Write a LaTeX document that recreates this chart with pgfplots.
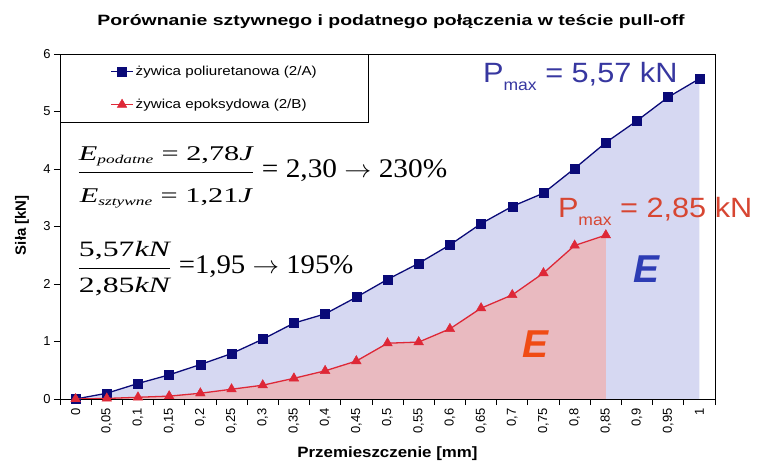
\documentclass[border=0pt]{standalone}
\usepackage{pgfplots}
\pgfplotsset{compat=1.18}
\usepackage{amsmath}
\usepackage{graphicx}
\usepackage{fontspec}
\setmainfont{Liberation Sans}
\newfontfamily\serif{Liberation Serif}
\definecolor{navy}{RGB}{10,10,120}
\definecolor{bluefill}{RGB}{214,216,242}
\definecolor{redline}{RGB}{222,40,55}
\definecolor{redfill}{RGB}{233,186,192}
\definecolor{pblue}{RGB}{55,55,160}
\definecolor{pred}{RGB}{215,70,50}
\definecolor{eblue}{RGB}{45,60,180}
\definecolor{ered}{RGB}{240,75,20}
\pgfplotstableread{
i f
0 0
1 0.10
2 0.27
3 0.42
4 0.60
5 0.79
6 1.04
7 1.32
8 1.48
9 1.77
10 2.08
11 2.36
12 2.68
13 3.05
14 3.35
15 3.58
16 4.01
17 4.46
18 4.84
19 5.25
20 5.57
}\poliur
\pgfplotstableread{
i f
0 0
1 0.01
2 0.03
3 0.05
4 0.10
5 0.17
6 0.24
7 0.36
8 0.49
9 0.66
10 0.97
11 0.99
12 1.22
13 1.58
14 1.81
15 2.19
16 2.67
17 2.85
}\epoks
\begin{document}
\begin{tikzpicture}
\useasboundingbox[fill=white] (0,0) rectangle (768bp,467bp);
\begin{axis}[
  at={(60bp,68bp)}, anchor=south west,
  scale only axis, width=655bp, height=345bp,
  xmin=-0.5, xmax=20.5, ymin=0, ymax=6,
  clip mode=individual,
  axis line style={black, line width=0.8pt},
  tick align=outside,
  xtick pos=bottom, ytick pos=left,
  xtick={0,...,20},
  xticklabels={{0},{0,05},{0,1},{0,15},{0,2},{0,25},{0,3},{0,35},{0,4},{0,45},{0,5},{0,55},{0,6},{0,65},{0,7},{0,75},{0,8},{0,85},{0,9},{0,95},{1}},
  major x tick style={draw=none},
  minor xtick={-0.5,0.5,...,20.5},
  minor tick length=6bp, major tick length=6bp,
  every tick/.style={black, line width=0.8pt},
  ytick={0,...,6},
  /pgf/number format/assume math mode=true,
  ticklabel style={font=\fontsize{13}{14}\selectfont},
  xticklabel style={rotate=90, anchor=east},
  title={\scalebox{1.3}[1]{Porównanie sztywnego i podatnego połączenia w teście pull-off}},
  title style={at={(0.5,1)}, anchor=base, yshift=22.5bp, xshift=3.5bp, font=\bfseries\fontsize{15}{16}\selectfont},
  xlabel={\scalebox{1.13}[1]{Przemieszczenie [mm]}},
  xlabel style={at={(axis description cs:0.5,0)}, anchor=base, yshift=-58bp, font=\bfseries\fontsize{15}{16}\selectfont},
  ylabel={Siła [kN]},
  ylabel style={at={(axis description cs:0,0.504)}, anchor=center, yshift=38bp, font=\bfseries\fontsize{15}{16}\selectfont},
  legend style={at={(0,1)}, anchor=north west, draw=black, line width=0.8pt, fill=white,
    font=\fontsize{13}{14}\selectfont, inner xsep=50bp, inner ysep=10bp, row sep=18bp},
  legend cell align=left,
  legend image code/.code={\draw[mark repeat=2,mark phase=2] plot coordinates {(0bp,0bp) (11bp,0bp) (22bp,0bp)};},
]
\addplot[fill=bluefill, draw=none, forget plot] table[x=i,y=f] {\poliur} \closedcycle;
\addplot[fill=redfill, draw=none, forget plot] table[x=i,y=f] {\epoks} \closedcycle;
\addplot[navy, line width=1.3pt, mark=square*, mark size=4.5bp, mark options={fill=navy, draw=navy, line width=0.5pt}] table[x=i,y=f] {\poliur};
\addlegendentry{\scalebox{1.17}[1]{żywica poliuretanowa (2/A)}}
\addplot[redline, line width=1.3pt, mark=triangle*, mark size=5.5bp, mark options={fill=redline, draw=redline, line width=0.5pt}] table[x=i,y=f] {\epoks};
\addlegendentry{\scalebox{1.17}[1]{żywica epoksydowa (2/B)}}
% annotations
\node[anchor=base west, inner sep=0, text=pblue, font=\fontsize{28}{30}\selectfont] at (axis cs:13.06,5.51) {\scalebox{1.1}[1]{P\raisebox{-0.3em}{\fontsize{16}{18}\selectfont max} = 5,57 kN}};
\node[anchor=base west, inner sep=0, text=pred, font=\fontsize{28}{30}\selectfont] at (axis cs:15.46,3.16) {\scalebox{1.1}[1]{P\raisebox{-0.3em}{\fontsize{16}{18}\selectfont max} = 2,85 kN}};
\node[anchor=base west, inner sep=0, text=eblue, font=\bfseries\itshape\fontsize{39}{40}\selectfont] at (axis cs:17.87,2.02) {E};
\node[anchor=base west, inner sep=0, text=ered, font=\bfseries\itshape\fontsize{39}{40}\selectfont] at (axis cs:14.31,0.73) {E};
\node[anchor=base west, inner sep=0, font=\serif\fontsize{21}{24}\selectfont] at (axis cs:0.045,3.845)
 {\scalebox{1.45}[1]{$\dfrac{\rule[-9pt]{0pt}{0pt}\mbox{\itshape E}_{\mbox{\fontsize{12}{13}\selectfont\itshape podatne}}\mbox{ = 2,78\itshape J}}{\rule{0pt}{27pt}\mbox{\itshape E}_{\mbox{\fontsize{12}{13}\selectfont\itshape sztywne}}\mbox{ = 1,21\itshape J}}$}\scalebox{1.09}[1]{\fontsize{27}{30}\selectfont{} = 2,30 $\rightarrow$ 230\%}};
\node[anchor=base west, inner sep=0, font=\serif\fontsize{22}{24}\selectfont] at (axis cs:0.045,2.18)
 {\scalebox{1.45}[1]{$\dfrac{\rule[-9pt]{0pt}{0pt}\mbox{5,57\itshape kN}}{\rule{0pt}{21pt}\mbox{2,85\itshape kN}}$}\scalebox{1.07}[1]{\fontsize{27}{30}\selectfont{} =1,95 $\rightarrow$ 195\%}};
\end{axis}
\end{tikzpicture}
\end{document}
